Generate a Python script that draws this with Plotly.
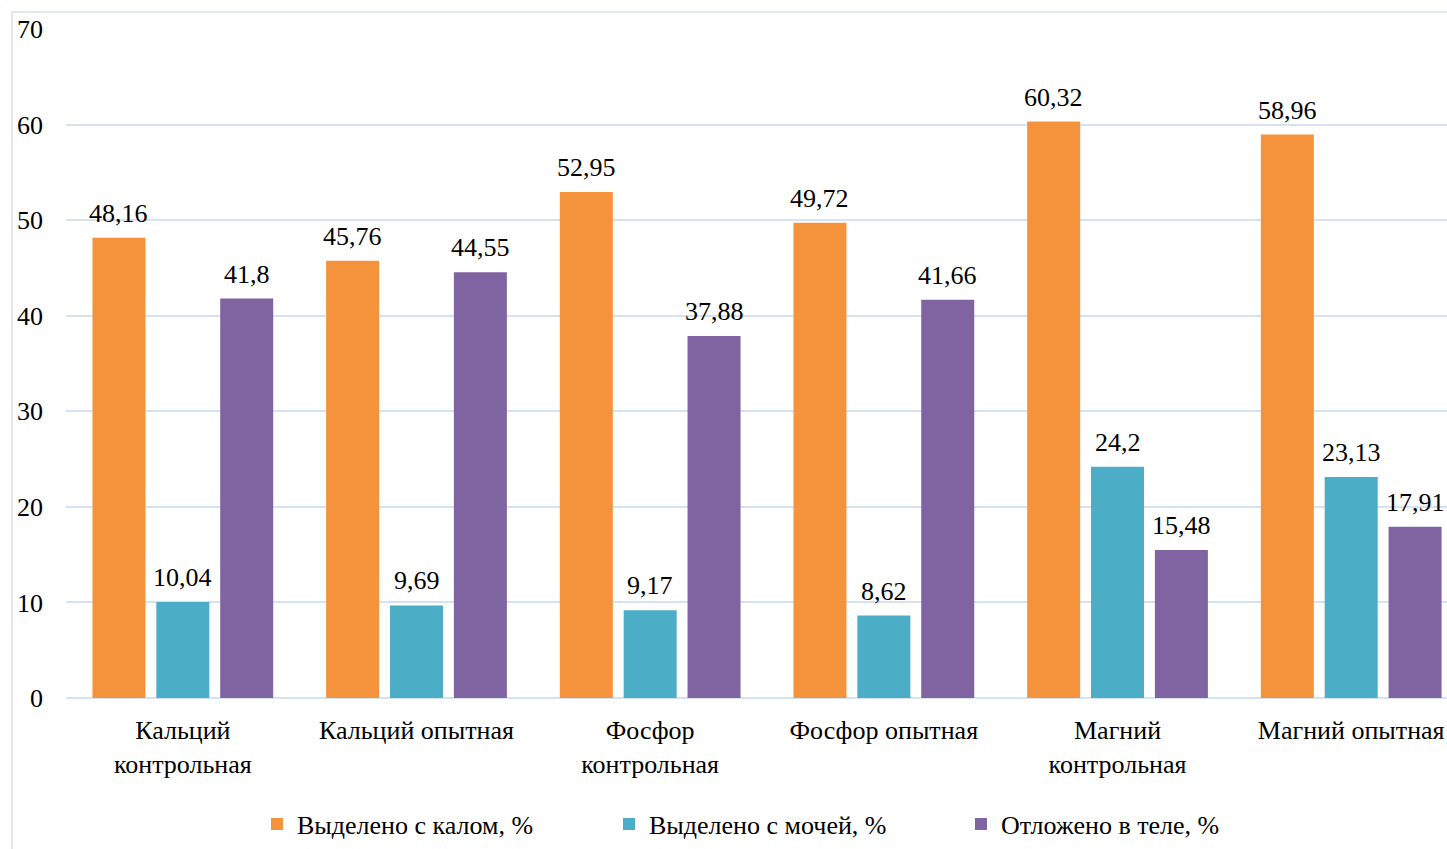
import plotly.graph_objects as go

categories = [
    "Кальций<br>контрольная",
    "Кальций опытная",
    "Фосфор<br>контрольная",
    "Фосфор опытная",
    "Магний<br>контрольная",
    "Магний опытная",
]
series_names = ["Выделено с калом, %", "Выделено с мочей, %", "Отложено в теле, %"]
feces = [48.16, 45.76, 52.95, 49.72, 60.32, 58.96]
urine = [10.04, 9.69, 9.17, 8.62, 24.2, 23.13]
body = [41.8, 44.55, 37.88, 41.66, 15.48, 17.91]
colors = ["#F5933C", "#4BADC6", "#8064A2"]

FONT = "Liberation Serif, Times New Roman, serif"
FS = 26

# geometry of the plot area and bar groups
W, H = 1447, 849
ML, MR, MT, MB = 66, 0, 29, 151
X_RANGE = [-0.5, 5.41]
BARGAP = 0.18
BARGROUPGAP = 0.17


def fmt(v):
    return f"{v:g}".replace(".", ",")


fig = go.Figure()
series = [feces, urine, body]
for name, vals, col in zip(series_names, series, colors):
    fig.add_trace(go.Bar(
        name=name,
        x=categories,
        y=vals,
        marker=dict(color=col, line=dict(width=0)),
        cliponaxis=False,
    ))

# value labels above each bar, shifted sideways to their slot in the group
px_per_cat = (W - ML - MR) / (X_RANGE[1] - X_RANGE[0])
slot = px_per_cat * (1 - BARGAP) / len(series)
annotations = []
for i, vals in enumerate(series):
    shift = (i - (len(series) - 1) / 2) * slot
    for cat, v in zip(categories, vals):
        annotations.append(dict(
            x=cat, y=v, xref="x", yref="y",
            text=fmt(v), showarrow=False,
            xanchor="center", yanchor="bottom",
            xshift=shift, yshift=8,
            font=dict(family=FONT, size=FS, color="#000000"),
        ))

fig.update_layout(
    width=W,
    height=H,
    margin=dict(l=ML, r=MR, t=MT, b=MB),
    paper_bgcolor="white",
    plot_bgcolor="white",
    barmode="group",
    bargap=BARGAP,
    bargroupgap=BARGROUPGAP,
    font=dict(family=FONT, size=FS, color="#000000"),
    annotations=annotations,
    legend=dict(
        orientation="h",
        x=(257 - ML) / (W - ML - MR),
        xanchor="left",
        y=-0.1885,
        yanchor="middle",
        font=dict(family=FONT, size=FS, color="#000000"),
        entrywidth=307,
        entrywidthmode="pixels",
        itemclick=False,
    ),
    showlegend=True,
    xaxis=dict(
        range=X_RANGE,
        showgrid=False,
        showline=False,
        ticks="",
        ticklabelstandoff=14,
        tickfont=dict(family=FONT, size=FS, color="#000000"),
    ),
    yaxis=dict(
        range=[0, 70],
        dtick=10,
        showgrid=True,
        gridcolor="#D5E2F2",
        gridwidth=1.5,
        zeroline=True,
        zerolinecolor="#D5E2F2",
        zerolinewidth=1.5,
        showline=False,
        ticks="",
        ticklabelstandoff=22,
        tickfont=dict(family=FONT, size=FS, color="#000000"),
    ),
    shapes=[dict(
        type="rect",
        xref="paper",
        yref="paper",
        x0=-0.0391,
        x1=1.2,
        y0=-0.5,
        y1=1.0254,
        line=dict(color="#D3E1F1", width=1.5),
        fillcolor="rgba(0,0,0,0)",
        layer="below",
    )],
)

fig.write_html("out.html")
